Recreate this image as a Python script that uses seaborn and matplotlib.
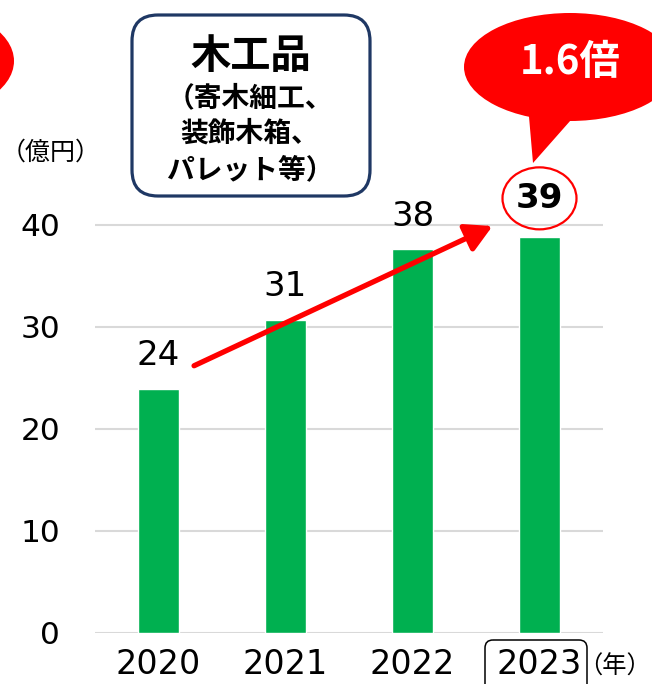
import matplotlib
matplotlib.use("Agg")
import matplotlib.pyplot as plt
import matplotlib.transforms as mtransforms
from matplotlib.patches import Ellipse, FancyBboxPatch, Polygon
import pandas as pd
import seaborn as sns

# --- data -------------------------------------------------------------
years = ["2020", "2021", "2022", "2023"]
sales = [23.9, 30.7, 37.6, 38.8]          # 億円
y_ticks = [0, 10, 20, 30, 40]
unit_y = "（億円）"
unit_x = "（年）"
title_main = "木工品"
title_lines = ["（寄木細工、", "装飾木箱、", "パレット等）"]
growth_label = "1.6倍"

# --- figure setup -----------------------------------------------------
W, H = 652, 684
sns.set_theme(style="white")
plt.rcParams["font.family"] = ["DejaVu Sans", "Noto Sans CJK JP"]
CJK = ["Noto Sans CJK JP", "DejaVu Sans"]

fig = plt.figure(figsize=(W / 100, H / 100), dpi=100)
ax = fig.add_axes([95 / W, (H - 633) / H, (603 - 95) / W, 633 / H])

# pixel coordinates measured from the top-left corner of the figure
px = mtransforms.Affine2D().scale(1 / W, -1 / H).translate(0, 1) + fig.transFigure

GREEN = "#00B050"
RED = "#FF0000"
NAVY = "#1F3864"

df = pd.DataFrame({"year": years, "sales": sales})
sns.barplot(data=df, x="year", y="sales", color=GREEN, saturation=1,
            width=0.315, ax=ax)

ax.set_xlim(-0.5, 3.5)
ax.set_ylim(0, 633 / 10.2)
ax.set_yticks(y_ticks)
ax.yaxis.grid(True, color="#D9D9D9", lw=1.5)
ax.xaxis.grid(False)
ax.set_axisbelow(True)
for s in ax.spines.values():
    s.set_visible(False)
ax.tick_params(axis="y", length=0, pad=25, labelsize=22.5, labelcolor="black")
ax.tick_params(axis="x", length=0, pad=11, labelsize=24, labelcolor="black")
ax.set_xlabel("")
ax.set_ylabel("")

# --- value labels -----------------------------------------------------
for i, v in enumerate(sales):
    last = i == len(sales) - 1
    off = 28 if last else 24
    ax.annotate(f"{v:.0f}", (i, v), xytext=(0, off), textcoords="offset points",
                ha="center", va="center", fontsize=24.5,
                fontweight="bold" if last else "normal", color="black")
    if last:
        ring_tr = mtransforms.offset_copy(ax.transData, fig=fig, x=0, y=off,
                                          units="points")
        ax.add_patch(Ellipse((i, v), 74 / 127, 62 / 10.2, transform=ring_tr,
                             fill=False, edgecolor=RED, lw=1.6, clip_on=False))

# growth arrow from 2020 towards 2023
ax.annotate("", xy=(2.63, 39.9), xytext=(0.28, 26.2),
            arrowprops=dict(arrowstyle="-|>,head_width=0.55,head_length=1.0",
                            mutation_scale=16, lw=3.8, color=RED,
                            shrinkA=0, shrinkB=0),
            annotation_clip=False)

# --- decorations ------------------------------------------------------
# neighbouring callout peeking in from the left
fig.add_artist(Ellipse((-82, 61), 192, 110, transform=px, color=RED, lw=0))

# growth callout
fig.add_artist(Ellipse((570, 67), 212, 108, transform=px, color=RED, lw=0))
fig.add_artist(Polygon([(528, 105), (578, 112), (533, 163)], closed=True,
                       transform=px, color=RED, lw=0))
fig.text(570, 63, growth_label, transform=px, ha="center", va="center",
         fontsize=29, fontweight="bold", color="white", family=CJK)

# product title box
fig.add_artist(FancyBboxPatch((132, 15), 238, 181,
                              boxstyle="round,pad=0,rounding_size=26",
                              transform=px, facecolor="white",
                              edgecolor=NAVY, lw=2.3))
fig.text(251, 57, title_main, transform=px, ha="center", va="center",
         fontsize=29, fontweight="bold", color="black", family=CJK)
for k, line in enumerate(title_lines):
    fig.text(250, 98 + 36 * k, line, transform=px, ha="center", va="center",
             fontsize=20, fontweight="bold", color="black", family=CJK)

# frame around the latest year
fig.add_artist(FancyBboxPatch((485, 640), 102, 60,
                              boxstyle="round,pad=0,rounding_size=8",
                              transform=px, fill=False, edgecolor="black",
                              lw=1.1))

# axis units
fig.text(1, 153, unit_y, transform=px, ha="left", va="center",
         fontsize=18, color="black", family=CJK)
fig.text(651, 667, unit_x, transform=px, ha="right", va="center",
         fontsize=17.5, color="black", family=CJK)

fig.savefig("out.png", dpi=100)
